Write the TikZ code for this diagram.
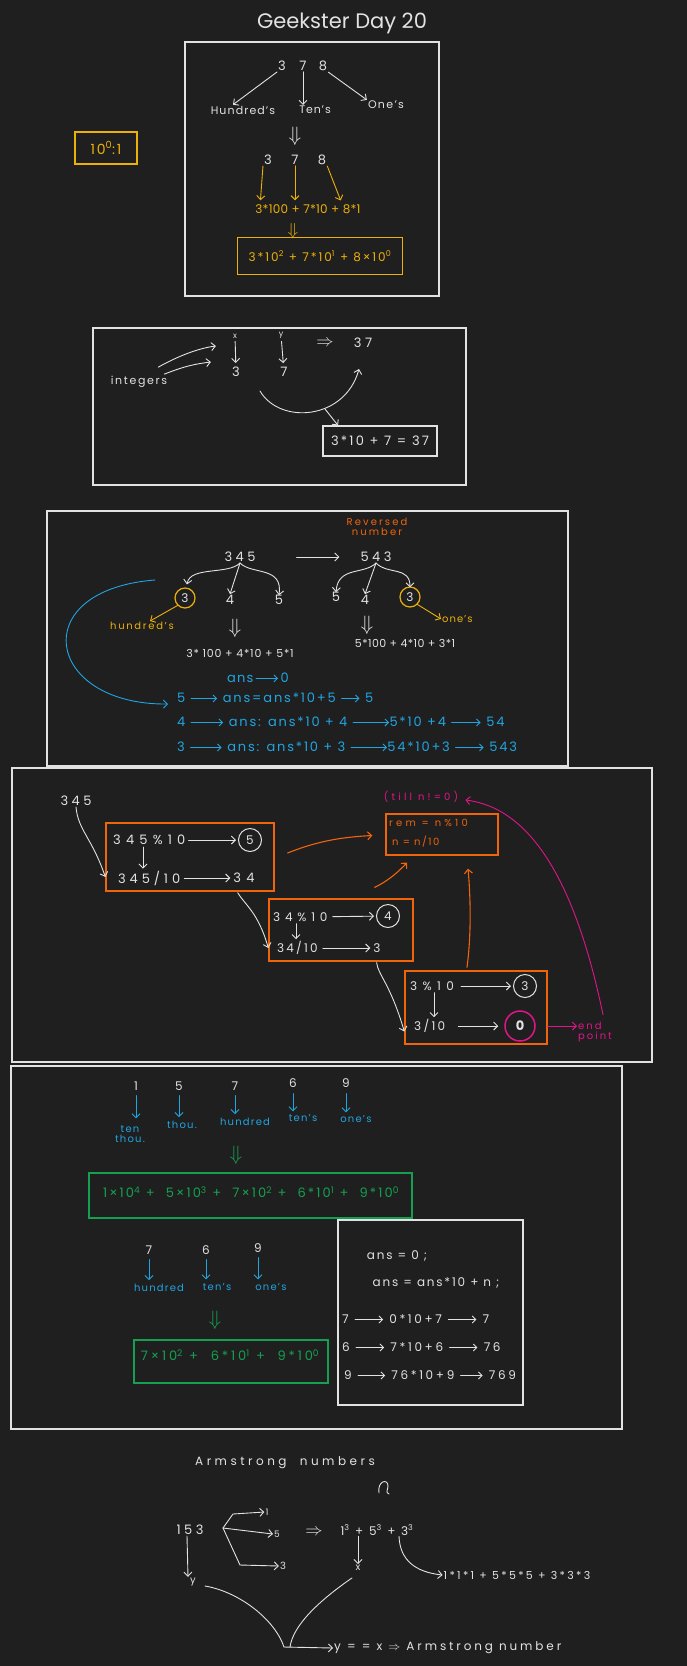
\documentclass[tikz,border=0pt]{standalone}
\usepackage{fontspec}
\setmainfont{Poppins}
\usetikzlibrary{arrows.meta,fit,calc}
\definecolor{bg}{RGB}{31,31,31}
\definecolor{fg}{RGB}{226,226,226}
\definecolor{yel}{RGB}{236,176,10}
\definecolor{org}{RGB}{240,100,12}
\definecolor{blu}{RGB}{32,165,225}
\definecolor{grn}{RGB}{20,160,80}
\definecolor{mag}{RGB}{225,20,140}
\newcommand\myfs[1]{\fontsize{#1}{#1}\selectfont}
\newcommand\tf[2]{\fontsize{#1}{#1}\selectfont\addfontfeature{LetterSpace=#2}}
\newcommand\harr[1][26]{\tikz[baseline=-0.6ex]\draw[line width=0.9pt,line cap=round,-{Straight Barb[length=3.5pt,width=7pt]}] (0pt,0pt) -- (#1pt,0pt);}
\tikzset{
 every node/.style={text=fg, inner sep=1pt, font=\myfs{10}},
 frame/.style={draw=fg, line width=1.3pt, inner sep=0pt},
 dig/.style={font=\myfs{13}},
 dbl/.style={font=\myfs{22}, inner sep=0pt},
 ybox/.style={draw=yel, line width=1.3pt, text=yel},
 box/.style={draw=fg, line width=1.2pt},
 obox/.style={draw=org, line width=1.3pt, inner sep=0pt},
 gbox/.style={draw=grn, line width=1.3pt, inner sep=0pt},
 ycirc/.style={circle, draw=yel, line width=1.2pt, minimum size=20pt, inner sep=0pt, font=\myfs{12}},
 wcirc/.style={circle, draw=fg, line width=1pt, minimum size=23pt, inner sep=0pt, font=\myfs{12}},
 mcirc/.style={circle, draw=mag, line width=1.5pt, minimum size=30pt, inner sep=0pt, font=\myfs{13}},
 ln/.style={draw=fg, line width=0.9pt, line cap=round},
 arr/.style={ln, -{Straight Barb[length=4pt,width=8pt]}},
 yarr/.style={arr, draw=yel},
 oarr/.style={arr, draw=org, line width=1.1pt},
 barr/.style={arr, draw=blu},
 marr/.style={arr, draw=mag},
 brow/.style={anchor=west, text=blu, font=\tf{13}{14}},
 wrow/.style={anchor=west, font=\tf{12}{22}},
 blbl/.style={text=blu, font=\tf{10}{12}, align=center},
}
\begin{document}
\begin{tikzpicture}[x=1pt,y=-1pt]
\fill[bg] (0,0) rectangle (687,1666);
\useasboundingbox (0,0) rectangle (687,1666);

%% ---------- Section 1
\node[font=\myfs{21}] (title) at (342,23) {Geekster Day 20};
\node[frame, fit={(185,42) (439,296)}] (fr1) {};
\node[ybox, minimum width=62pt, minimum height=32pt, font=\tf{14}{12}] (unit) at (106,148) {10\textsuperscript{0}:1};
\node[dig] (a3) at (282,66) {3};
\node[dig] (a7) at (303,66) {7};
\node[dig] (a8) at (323,66) {8};
\node[font=\tf{11}{10}] (hund) at (243,110) {Hundred's};
\node[font=\tf{11}{8}] (tens) at (315,110) {Ten's};
\node[font=\tf{11}{12}] (ones) at (386,105) {One's};
\draw[arr] (a3.south west) -- ([xshift=-10pt]hund.north);
\draw[arr] (a7.south) -- (tens.north -| a7);
\draw[arr] (a8.south east) -- (ones.north west);
\node[dbl] (d1) at (295,136) {$\Downarrow$};
\node[dig] (b3) at (268,160) {3};
\node[dig] (b7) at (295,160) {7};
\node[dig] (b8) at (322,160) {8};
\node[text=yel, font=\tf{12}{2}] (yq1) at (308,209) {3*100 + 7*10 + 8*1};
\draw[yarr, shorten >=3pt] (b3.south west) -- ([xshift=6pt]yq1.north west);
\draw[yarr, shorten >=3pt] (b7.south) -- (yq1.north -| b7);
\draw[yarr, shorten >=3pt] (b8.south east) -- ([xshift=-20pt]yq1.north east);
\node[dbl, text=yel, font=\myfs{17}] (d2) at (293,231) {$\Downarrow$};
\node[ybox, minimum width=165pt, minimum height=37pt, font=\tf{12}{16}] (yq2) at (320,256) {3*10\textsuperscript{2} + 7*10\textsuperscript{1} + 8×10\textsuperscript{0}};

%% ---------- Section 2
\node[frame, fit={(93,328) (466,485)}] (fr2) {};
\node[font=\myfs{8}] (vx) at (235,336) {x};
\node[font=\myfs{8}] (vy) at (281,335) {y};
\node[dig] (c3) at (236,372) {3};
\node[dig] (c7) at (284,372) {7};
\draw[arr, shorten <=2pt, shorten >=3pt] (vx) -- (c3);
\draw[arr, shorten <=2pt, shorten >=3pt] (vy) -- (c7);
\node[font=\myfs{16}] (imp1) at (325,343) {$\Rightarrow$};
\node[dig] (n37) at (363,343) {3 7};
\node[font=\tf{11}{15}] (intg) at (139,382) {integers};
\draw[arr] ([shift={(-10,-8)}]intg.north east) .. controls (180,355) and (200,348) .. ([shift={(-16,10)}]vx.west);
\draw[arr] ([shift={(-4,-1)}]intg.north east) .. controls (185,366) and (195,364) .. ([shift={(-21,26)}]vx.west);
\draw[arr] ([shift={(24,13)}]c3.south) .. controls (280,425) and (345,420) .. ([shift={(-4,20)}]n37.south);
\coordinate (cv) at (325,409);
\node[box, minimum width=114pt, minimum height=30pt, font=\tf{13}{17}] (eq2) at (380,441) {3*10 + 7 = 37};
\draw[arr] (cv) -- ([xshift=-42pt]eq2.north);

%% ---------- Section 3
\node[frame, fit={(47,511) (568,766)}] (fr3) {};
\node[text=org, font=\tf{10}{21}, align=center] (rev) at (377,527) {Reversed\\number};
\node[dig] (s345) at (240,557) {3 4 5};
\node[dig] (s543) at (376,557) {5 4 3};
\draw[arr, shorten <=40pt, shorten >=20pt] (s345) -- (s543);
\node[ycirc] (h3) at (185,598) {3};
\node[dig] (h4) at (230,600) {4};
\node[dig] (h5) at (279,600) {5};
\draw[arr] (s345.south) .. controls (228,575) and (190,566) .. ([shift={(2,-3)}]h3.north);
\draw[arr] (s345.south) -- (h4.north);
\draw[arr] (s345.south) .. controls (252,575) and (283,566) .. ([yshift=-1pt]h5.north);
\node[text=yel, font=\tf{10}{17}] (hl) at (142,626) {hundred's};
\draw[yarr] (h3.south west) -- ([xshift=8pt]hl.north);
\node[dbl] (d3) at (235,628) {$\Downarrow$};
\node[font=\tf{11}{7}] (e3) at (240,653) {3* 100 + 4*10 + 5*1};
\node[dig] (k5) at (336,597) {5};
\node[dig] (k4) at (365,600) {4};
\node[ycirc] (k3) at (410,597) {3};
\draw[arr] (s543.south) .. controls (364,575) and (338,566) .. ([yshift=-1pt]k5.north);
\draw[arr] (s543.south) -- (k4.north);
\draw[arr] (s543.south) .. controls (388,575) and (410,566) .. ([yshift=-1pt]k3.north);
\node[text=yel, font=\tf{10}{10}, anchor=west] (ol) at (441,619) {one's};
\draw[yarr] (k3.south east) -- (ol.west);
\node[dbl] (d4) at (367,625) {$\Downarrow$};
\node[font=\tf{11}{4}] (e4) at (405,643) {5*100 + 4*10 + 3*1};
\node[text=blu, font=\tf{13}{9}] (a0) at (258,678) {ans\,\harr[22]\,0};
\coordinate (bs) at (155,580);
\node[brow] (r1) at (176,698) {5 \harr[26] ans=ans*10+5 \harr[18] 5};
\node[brow] (r2) at (176,722) {4 \harr[32] ans: ans*10 + 4 \harr[36]5*10 +4 \harr[29] 54};
\node[brow] (r3) at (176,747) {3 \harr[31] ans: ans*10 + 3 \harr[36]54*10+3 \harr[28] 543};
\draw[barr] (bs) .. controls (25,590) and (45,705) .. ([shift={(-8,6)}]r1.west);

%% ---------- Section 4
\node[frame, fit={(12,768) (652,1062)}] (fr4) {};
\node[dig] (t345) at (76,801) {3 4 5};
\node[obox, fit={(106,823) (274,891)}] (bA) {};
\node[font=\tf{13}{40}, anchor=west] (m1) at (112,840) {345\%10};
\node[wcirc] (o5) at (250,840) {5};
\node[font=\tf{13}{30}, anchor=west] (m2) at (117,878) {345/10};
\node[font=\tf{13}{40}] (m34) at (244,878) {34};
\draw[arr, shorten <=2pt, shorten >=2pt] (m1) -- (o5);
\draw[arr, shorten <=1pt, shorten >=1pt] (m1.south -| 143,0) -- (m2.north -| 143,0);
\draw[arr, shorten <=3pt, shorten >=2pt] (m2) -- (m34);
\draw[arr] (t345.south) .. controls (78,830) and (92,838) .. ([yshift=-20pt]bA.west);

\node[obox, fit={(269,899) (413,961)}] (bB) {};
\node[font=\tf{12}{40}, anchor=west] (p1) at (272,917) {34\%10};
\node[wcirc] (o4) at (388,916) {4};
\node[font=\tf{12}{18}, anchor=west] (p2) at (276,948) {34/10};
\node[font=\myfs{12}] (p3) at (377,948) {3};
\draw[arr, shorten <=4pt, shorten >=2pt] (p1) -- (o4);
\draw[arr, shorten <=1pt, shorten >=1pt] (p1.south -| 296,0) -- (p2.north -| 296,0);
\draw[arr, shorten <=4pt, shorten >=2pt] (p2) -- (p3);
\draw[arr] ([shift={(-37,1)}]bA.south east) .. controls (245,905) and (258,912) .. ([yshift=-18pt]bB.west);

\node[obox, fit={(405,971) (547,1044)}] (bC) {};
\node[font=\tf{12}{45}, anchor=west] (q1) at (409,986) {3\%10};
\node[wcirc] (o3) at (525,986) {3};
\node[font=\tf{12}{19}, anchor=west] (q2) at (413,1026) {3/10};
\node[mcirc] (o0) at (520,1026) {\textbf{0}};
\draw[arr, shorten <=6pt, shorten >=2pt] (q1) -- (o3);
\draw[arr, shorten <=1pt, shorten >=1pt] (q1.south -| 434,0) -- (q2.north -| 434,0);
\draw[arr, shorten <=12pt, shorten >=6pt] (q2) -- (o0);
\draw[arr] ([shift={(-37,1)}]bB.south east) .. controls (378,975) and (390,983) .. ([yshift=-24pt]bC.west);
\node[text=mag, font=\tf{10}{20}, align=left, anchor=west] (ep) at (577,1032) {end\\point};
\draw[marr] (o0.east -| bC.east) -- (ep.west |- o0);

\node[obox, fit={(386,814) (498,855)}] (bD) {};
\node[text=org, font=\tf{10}{32}, anchor=west] (rm) at (388,823) {rem = n\%10};
\node[text=org, font=\tf{10}{15}, anchor=west] (nn) at (391,842) {n = n/10};
\node[text=mag, font=\tf{10}{32}] (till) at (421,797) {(till n!=0)};
\draw[oarr] ([shift={(13,-4)}]bA.east) .. controls (320,840) and (345,837) .. ([shift={(-13,1)}]bD.west);
\draw[oarr] ([shift={(-39,-11)}]bB.north east) .. controls (390,880) and (400,870) .. ([shift={(-35,7)}]bD.south);
\draw[oarr] ([shift={(-9,-3)}]bC.north) .. controls (472,930) and (470,890) .. ([shift={(26,13)}]bD.south);
\draw[marr] ([shift={(8,-6)}]ep.north) .. controls (575,880) and (530,808) .. ([shift={(6,3)}]till.east);

%% ---------- Section 5
\node[frame, fit={(11,1066) (622,1429)}] (fr5) {};
\node[font=\myfs{12}] (u1) at (136,1086) {1};
\node[font=\myfs{12}] (u2) at (179,1086) {5};
\node[font=\myfs{12}] (u3) at (235,1086) {7};
\node[font=\myfs{12}] (u4) at (293,1083) {6};
\node[font=\myfs{12}] (u5) at (346,1083) {9};
\node[blbl] (l1) at (130,1134) {ten\\thou.};
\node[blbl] (l2) at (182,1125) {thou.};
\node[blbl] (l3) at (245,1122) {hundred};
\node[blbl] (l4) at (303,1118) {ten's};
\node[blbl] (l5) at (356,1119) {one's};
\draw[barr, shorten <=4pt, shorten >=6pt] (u1.south) -- (u1.south |- l1.north);
\draw[barr, shorten <=4pt, shorten >=3pt] (u2.south) -- (u2.south |- l2.north);
\draw[barr, shorten <=4pt, shorten >=3pt] (u3.south) -- (u3.south |- l3.north);
\draw[barr, shorten <=5pt, shorten >=2pt] (u4.south) -- (u4.south |- l4.north);
\draw[barr, shorten <=5pt, shorten >=2pt] (u5.south) -- (u5.south |- l5.north);
\node[dbl, text=grn] (d5) at (236,1155) {$\Downarrow$};
\node[gbox, fit={(89,1173) (412,1218)}] (g1) {};
\node[text=grn, font=\tf{13}{16}] (g1t) at (251,1192) {1×10\textsuperscript{4}\ + \ 5×10\textsuperscript{3}\ + \ 7×10\textsuperscript{2}\ + \ 6*10\textsuperscript{1}\ + \ 9*10\textsuperscript{0}};

\node[font=\myfs{12}] (v1) at (149,1250) {7};
\node[font=\myfs{12}] (v2) at (206,1250) {6};
\node[font=\myfs{12}] (v3) at (258,1248) {9};
\node[blbl] (w1) at (159,1288) {hundred};
\node[blbl] (w2) at (217,1287) {ten's};
\node[blbl] (w3) at (271,1287) {one's};
\draw[barr, shorten <=4pt, shorten >=3pt] (v1.south) -- (v1.south |- w1.north);
\draw[barr, shorten <=4pt, shorten >=3pt] (v2.south) -- (v2.south |- w2.north);
\draw[barr, shorten <=4pt, shorten >=3pt] (v3.south) -- (v3.south |- w3.north);
\node[dbl, text=grn] (d6) at (215,1320) {$\Downarrow$};
\node[gbox, fit={(134,1340) (328,1383)}] (g2) {};
\node[text=grn, font=\tf{13}{22}] (g2t) at (230,1355) {7×10\textsuperscript{2}\ + \ 6*10\textsuperscript{1}\ + \ 9*10\textsuperscript{0}};

\node[frame, fit={(338,1220) (523,1405)}] (bE) {};
\node[font=\tf{12}{15}] (z1) at (397,1256) {ans = 0 ;};
\node[font=\tf{12}{15}] (z2) at (436,1283) {ans = ans*10 + n ;};
\node[wrow] (z3) at (341,1319) {7 \harr[28] 0*10+7 \harr[28] 7};
\node[wrow] (z4) at (341,1347) {6 \harr[28] 7*10+6 \harr[28] 76};
\node[wrow] (z5) at (343,1375) {9 \harr[27] 76*10+9 \harr[22] 769};

%% ---------- Section 6
\node[font=\tf{12}{29}] (arm) at (285,1463) {Armstrong \ numbers};
\draw[ln] (379,1493) .. controls (377,1481) and (388,1478) .. (388,1486) .. controls (388,1490) and (385,1492) .. (389,1494);
\node[dig] (a153) at (190,1530) {1 5 3};
\coordinate (sp) at (223,1528);
\node[font=\myfs{9}] (e1) at (267,1512) {1};
\node[font=\myfs{9}] (e2) at (277,1534) {5};
\node[font=\myfs{10}] (e3b) at (283,1566) {3};
\draw[arr] (sp) -- ++(10,-14) -- (e1.west);
\draw[arr] (sp) -- (e2.west);
\draw[arr] (sp) -- ++(17,37) -- (e3b.west);
\node[font=\myfs{16}] (imp2) at (314,1532) {$\Rightarrow$};
\node[font=\tf{12}{20}] (pw) at (377,1530) {1\textsuperscript{3} + 5\textsuperscript{3} + 3\textsuperscript{3}};
\node[font=\myfs{10}] (xx) at (358,1568) {x};
\draw[arr] (xx.north |- pw.south) -- (xx.north);
\node[font=\tf{11}{21}] (cubes) at (517,1575) {1*1*1 + 5*5*5 + 3*3*3};
\draw[arr] ([shift={(22,0)}]pw.south) .. controls (400,1560) and (415,1572) .. (cubes.west);
\node[font=\myfs{10}] (yy) at (193,1582) {y};
\draw[arr] ([xshift=-3pt]a153.south) -- ([xshift=-5pt]yy.north);
\coordinate (jn) at (284,1647);
\draw[ln] ([shift={(8,4)}]yy.east) .. controls (240,1592) and (275,1620) .. (jn);
\draw[ln] ([shift={(-6,6)}]xx.south) .. controls (320,1600) and (293,1625) .. ([xshift=6pt]jn);
\node[font=\tf{12}{24}, anchor=west] (res) at (333,1648) {y = = x $\Rightarrow$ Armstrong number};
\draw[arr] (jn) -- (res.west);
\end{tikzpicture}
\end{document}
